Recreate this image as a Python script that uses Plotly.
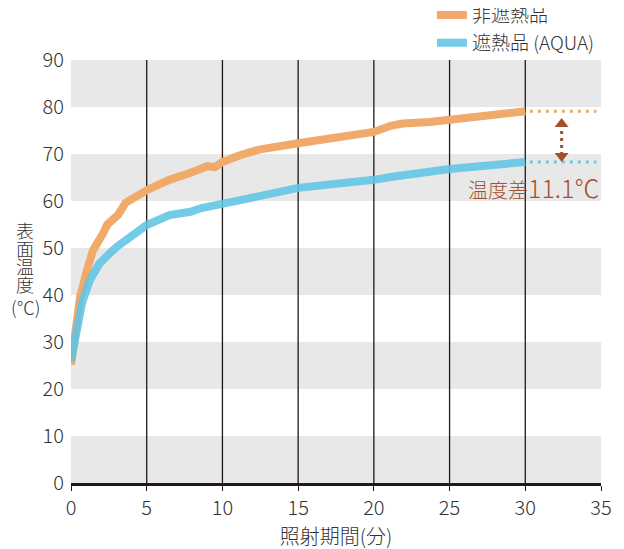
import plotly.graph_objects as go

# 照射時間（分）と表面温度（℃）
orange_x = [0, 0.26, 0.6, 1.06, 1.45, 2.1, 2.4, 3.1, 3.6, 5.0, 6.5, 7.9, 9.0, 9.5, 10.0,
            11.2, 12.5, 15.0, 17.8, 20.0, 21.1, 21.9, 23.7, 25.0, 30.0]
orange_y = [25.2, 32.5, 39.6, 45.3, 49.5, 53.0, 55.0, 57.0, 59.6, 62.3, 64.5, 66.0, 67.4, 67.2, 68.3,
            69.8, 71.0, 72.3, 73.8, 74.7, 76.0, 76.5, 76.8, 77.2, 79.1]
blue_x = [0, 0.4, 0.73, 1.25, 1.9, 3.0, 4.3, 5.0, 6.5, 7.9, 8.6, 9.8, 11.2, 15.0, 17.0,
          20.0, 21.1, 25.0, 30.0]
blue_y = [26.0, 32.5, 38.3, 43.2, 46.8, 50.2, 53.2, 54.9, 57.0, 57.7, 58.5, 59.1, 60.2, 62.8, 63.4,
          64.5, 65.1, 66.8, 68.3]

x_ticks = [0, 5, 10, 15, 20, 25, 30, 35]
y_ticks = [0, 10, 20, 30, 40, 50, 60, 70, 80, 90]
bands = [(0, 10), (20, 30), (40, 50), (60, 70), (80, 90)]
grid_x = [5, 10, 15, 20, 25, 30]

ext_x = [30.3, 34.7]
arrow_x = 32.4
arrow_top, arrow_bottom = 76.4, 69.6
diff_label = "温度差<span style='font-size:25px'>11.1℃</span>"
y_title = ["表", "面", "温", "度", "(℃)"]

ORANGE = "#F0AA6A"
BLUE = "rgba(94,196,228,0.88)"
BROWN = "#A4502C"
FONT = "Noto Sans CJK JP"

fig = go.Figure()

fig.add_trace(go.Scatter(x=orange_x, y=orange_y, mode="lines", name="非遮熱品",
                         line=dict(color=ORANGE, width=8)))
fig.add_trace(go.Scatter(x=blue_x, y=blue_y, mode="lines", name="遮熱品 (AQUA)",
                         line=dict(color=BLUE, width=8)))

# 30分以降の点線
fig.add_trace(go.Scatter(x=ext_x, y=[orange_y[-1]] * 2, mode="lines", showlegend=False,
                         line=dict(color=ORANGE, width=3, dash="3px,5px")))
fig.add_trace(go.Scatter(x=ext_x, y=[blue_y[-1]] * 2, mode="lines", showlegend=False,
                         line=dict(color="#6EC9E5", width=3, dash="3px,5px")))

# 温度差の矢印
fig.add_trace(go.Scatter(x=[arrow_x, arrow_x], y=[arrow_top, arrow_bottom], mode="lines", showlegend=False,
                         line=dict(color=BROWN, width=3, dash="3px,4px")))
fig.add_trace(go.Scatter(x=[arrow_x, arrow_x], y=[arrow_top, arrow_bottom], mode="markers", showlegend=False,
                         marker=dict(symbol=["triangle-up", "triangle-down"], size=12, color=BROWN)))

for y0, y1 in bands:
    fig.add_shape(type="rect", xref="x", yref="y", x0=0, x1=35, y0=y0, y1=y1,
                  fillcolor="#E8E8E8", line=dict(width=0), layer="below")
for gx in grid_x:
    fig.add_shape(type="line", xref="x", yref="y", x0=gx, x1=gx, y0=0, y1=90,
                  line=dict(color="#231815", width=1.3), layer="below")

fig.add_annotation(x=35, y=63.0, xref="x", yref="y", text=diff_label, showarrow=False,
                   xanchor="right", yanchor="middle", font=dict(size=20, color=BROWN, family=FONT))

# 縦書きの軸タイトル
title_px = [230, 248, 266, 284, 307]
for ch, py in zip(y_title, title_px):
    fig.add_annotation(x=-46 / 530, y=(483 - py) / 423, xref="paper", yref="paper",
                       text=ch, showarrow=False, xanchor="center", yanchor="middle",
                       font=dict(size=18, color="#333", family=FONT))

# ページの余白(8px)を差し引いた余白
fig.update_layout(
    width=624, height=549,
    paper_bgcolor="white", plot_bgcolor="white",
    margin=dict(l=63, r=31, t=52, b=74, autoexpand=False),
    font=dict(family=FONT, size=20, color="#333", weight=300),
    showlegend=True,
    legend=dict(x=0.681, y=1.151, xanchor="left", yanchor="top", bgcolor="rgba(0,0,0,0)",
                font=dict(size=19, color="#333"), itemwidth=30, tracegroupgap=0),
    xaxis=dict(range=[0, 35], tickvals=x_ticks, showgrid=False, zeroline=False,
               showline=True, linecolor="#231815", linewidth=2.5,
               ticks="outside", ticklen=5, tickcolor="#231815", tickwidth=1.3,
               tickfont=dict(size=20),
               title=dict(text="照射期間(分)", font=dict(size=20), standoff=6)),
    yaxis=dict(range=[0, 90], tickvals=y_ticks, showgrid=False, zeroline=False,
               showline=False, ticks="", ticklabelstandoff=6, tickfont=dict(size=20)),
)

fig.write_html("out.html")
